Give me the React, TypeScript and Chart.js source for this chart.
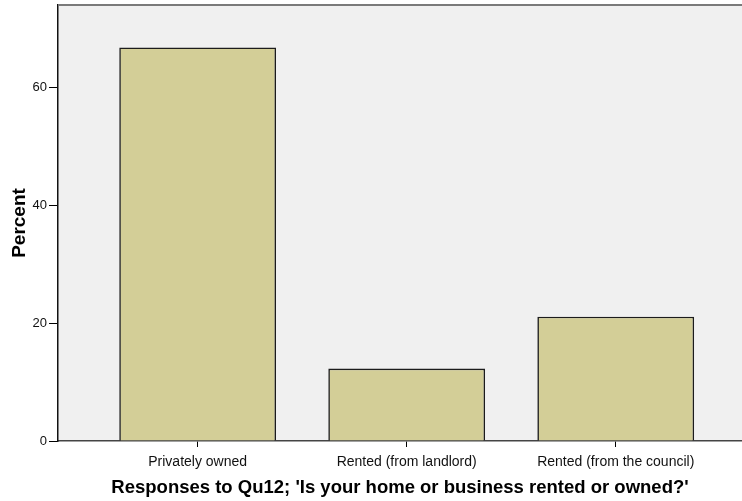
import React, { useEffect, useRef } from "react";
import { Chart, registerables } from "chart.js";

Chart.register(...registerables);

const categories = ["Privately owned", "Rented (from landlord)", "Rented (from the council)"];
const percentValues = [66.8, 12.3, 21.1];
const yTicks = [0, 20, 40, 60];
const xTitle = "Responses to Qu12; 'Is your home or business rented or owned?'";
const yTitle = "Percent";

const framePlugin = {
  id: "frame",
  beforeDraw(chart: any) {
    const { ctx, chartArea } = chart;
    ctx.save();
    ctx.fillStyle = "#f0f0f0";
    ctx.fillRect(chartArea.left, chartArea.top, chartArea.right - chartArea.left, chartArea.bottom - chartArea.top);
    ctx.restore();
  },
  afterDraw(chart: any) {
    const { ctx, chartArea } = chart;
    ctx.save();
    ctx.strokeStyle = "#7a7a7a";
    ctx.lineWidth = 2;
    ctx.beginPath();
    ctx.moveTo(chartArea.left, chartArea.top);
    ctx.lineTo(chartArea.right, chartArea.top);
    ctx.stroke();
    ctx.restore();
  },
};

export default function App() {
  const ref = useRef<HTMLCanvasElement | null>(null);
  useEffect(() => {
    document.body.style.margin = "0";
    const canvas = ref.current;
    if (!canvas) return;
    const chart = new Chart(canvas, {
      type: "bar",
      data: {
        datasets: [
          {
            label: yTitle,
            data: percentValues.map((v, i) => ({ x: i, y: v })),
            backgroundColor: "#d3ce97",
            borderColor: "#1c1c1c",
            borderWidth: 1.6,
            barPercentage: 0.75,
            categoryPercentage: 1,
          },
        ],
      },
      options: {
        animation: false,
        responsive: false,
        maintainAspectRatio: false,
        layout: { padding: { top: 5, left: 0, right: 0, bottom: 0 } },
        plugins: { legend: { display: false }, tooltip: { enabled: false } },
        scales: {
          x: {
            type: "linear",
            min: -0.668,
            max: 2.604,
            offset: false,
            afterBuildTicks: (scale: any) => {
              scale.ticks = categories.map((_, i) => ({ value: i }));
            },
            afterFit: (scale: any) => {
              scale.height = 60;
              scale.paddingLeft = 0;
              scale.paddingRight = 0;
            },
            grid: { display: true, drawOnChartArea: false, offset: false, tickLength: 6, color: "#000", lineWidth: 1 },
            border: { display: true, color: "#444", width: 1.5 },
            ticks: {
              autoSkip: false,
              maxRotation: 0,
              padding: 7,
              color: "#111",
              font: { family: "'Liberation Sans', Arial, sans-serif", size: 14 },
              callback: (v: any) => categories[Math.round(Number(v))] ?? "",
            },
            title: {
              display: true,
              text: xTitle,
              color: "#000",
              font: { family: "'Liberation Sans', Arial, sans-serif", size: 18.5, weight: "bold" },
              padding: { top: 8, bottom: 2 },
            },
          },
          y: {
            min: 0,
            max: 74,
            afterBuildTicks: (scale: any) => {
              scale.ticks = yTicks.map((v) => ({ value: v }));
            },
            afterFit: (scale: any) => {
              scale.width = 58;
              scale.paddingTop = 0;
              scale.paddingBottom = 0;
            },
            grid: { display: true, drawOnChartArea: false, tickLength: 9, color: "#000", lineWidth: 1 },
            border: { display: true, color: "#111", width: 1.5 },
            ticks: {
              padding: 2,
              color: "#111",
              font: { family: "'Liberation Sans', Arial, sans-serif", size: 13 },
            },
            title: {
              display: true,
              text: yTitle,
              color: "#000",
              font: { family: "'Liberation Sans', Arial, sans-serif", size: 19, weight: "bold" },
              padding: { top: 8, bottom: 4 },
            },
          },
        },
      },
      plugins: [framePlugin],
    } as any);
    return () => chart.destroy();
  }, []);
  return (
    <div style={{ width: 742, height: 501, background: "#fff" }}>
      <canvas ref={ref} width={742} height={501} style={{ display: "block" }} />
    </div>
  );
}
